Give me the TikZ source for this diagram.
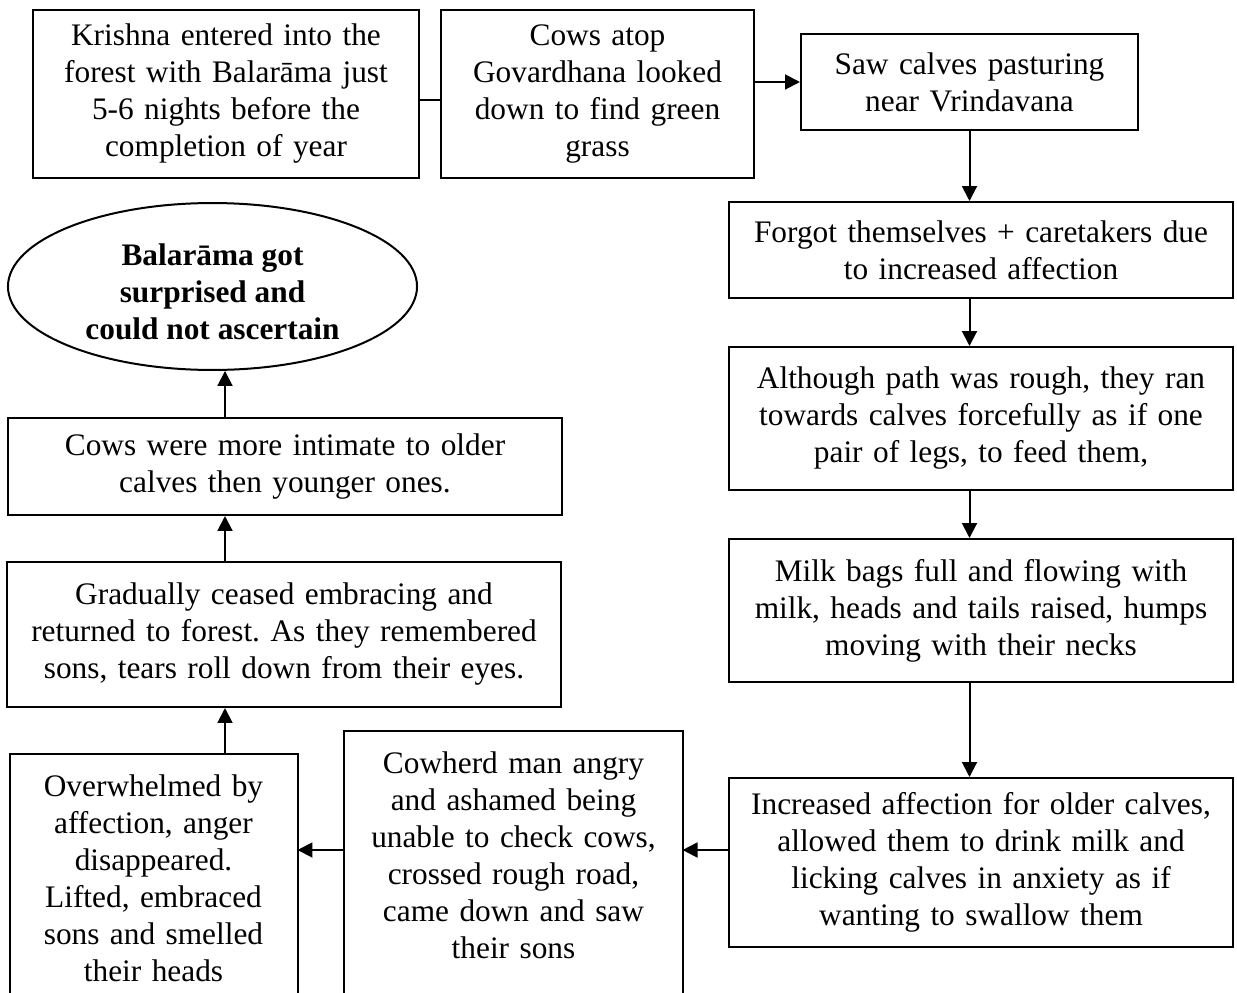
\documentclass[tikz,border=0pt]{standalone}
\usepackage{fontspec}
\setmainfont{Liberation Serif}
\usetikzlibrary{arrows.meta,shapes.geometric}
\frenchspacing

\begin{document}
\begin{tikzpicture}[x=0.375pt,y=-0.375pt,
  every node/.style={font=\fontsize{11.75pt}{13.875pt}\selectfont},
  stepbox/.style={draw, line width=0.75pt, align=center, inner xsep=2pt, inner ysep=0pt},
  openbox/.style={align=center, inner xsep=2pt, inner ysep=7.5pt, anchor=north},
  flow/.style={line width=0.75pt, -{Triangle[length=5.6pt,width=5.6pt]}},
  link/.style={line width=0.75pt}]
\useasboundingbox (0,0) rectangle (1237,992);
\clip (0,0) rectangle (1237,992);

% guide coordinates for the connector lanes
\coordinate (toplane) at (0,100);
\coordinate (lowlane) at (0,850);
\coordinate (spine) at (225,0);
\coordinate (floor) at (0,1010);

% top row
\node[stepbox, text width=140.75pt, minimum height=63pt] (krishna) at (226,94)
  {Krishna entered into the\\forest with Balarāma just\\5-6 nights before the\\completion of year};
\node[stepbox, text width=113.4pt, minimum height=63pt] (govardhana) at (597.5,94)
  {Cows atop\\Govardhana looked\\down to find green\\grass};
\node[stepbox, text width=122.4pt, minimum height=36pt] (calves) at (969.5,82)
  {Saw calves pasturing\\near Vrindavana};

% right column
\node[stepbox, text width=185pt, minimum height=36pt] (forgot) at (981,250)
  {Forgot themselves + caretakers due\\to increased affection};
\node[stepbox, text width=185pt, minimum height=53.625pt] (rough) at (981,418.5)
  {Although path was rough, they ran\\towards calves forcefully as if one\\pair of legs, to feed them,};
\node[stepbox, text width=185pt, minimum height=53.625pt] (milk) at (981,610.5)
  {Milk bags full and flowing with\\milk, heads and tails raised, humps\\moving with their necks};
\node[stepbox, text width=185pt, minimum height=63.375pt] (older) at (981,862.5)
  {Increased affection for older calves,\\allowed them to drink milk and\\licking calves in anxiety as if\\wanting to swallow them};

% bottom row (boxes run off the lower edge)
\node[openbox, text width=122.4pt] (cowherd) at (513.5,731)
  {Cowherd man angry\\and ashamed being\\unable to check cows,\\crossed rough road,\\came down and saw\\their sons};
\draw[link] (cowherd.north west) rectangle (cowherd.east |- floor);
\node[openbox, text width=103.6pt] (overwhelmed) at (153.5,754)
  {Overwhelmed by\\affection, anger\\disappeared.\\Lifted, embraced\\sons and smelled\\their heads};
\draw[link] (overwhelmed.north west) rectangle (overwhelmed.east |- floor);

% left column
\node[stepbox, text width=203.75pt, minimum height=54.375pt] (ceased) at (284,634.5)
  {Gradually ceased embracing and\\returned to forest. As they remembered\\sons, tears roll down from their eyes.};
\node[stepbox, text width=203.75pt, minimum height=36.375pt] (intimate) at (285,466.5)
  {Cows were more intimate to older\\calves then younger ones.};
\node[draw, ellipse, line width=0.75pt, minimum width=153.4pt, minimum height=62.6pt,
  inner sep=0pt, align=center, font=\fontsize{11.75pt}{13.875pt}\selectfont\bfseries] (surprised) at (212.5,286.5)
  {\rule{0pt}{12.4pt}Balarāma got\\surprised and\\could not ascertain};

% connectors
\draw[link] (krishna.east |- toplane) -- (govardhana.west |- toplane);
\draw[flow] (govardhana.east |- calves.west) -- (calves.west);
\draw[flow] (calves.south) -- (calves.south |- forgot.north);
\draw[flow] (calves.south |- forgot.south) -- (calves.south |- rough.north);
\draw[flow] (calves.south |- rough.south) -- (calves.south |- milk.north);
\draw[flow] (calves.south |- milk.south) -- (calves.south |- older.north);
\draw[flow] (older.west |- lowlane) -- (cowherd.east |- lowlane);
\draw[flow] (cowherd.west |- lowlane) -- (overwhelmed.east |- lowlane);
\draw[flow] (overwhelmed.north -| spine) -- (ceased.south -| spine);
\draw[flow] (ceased.north -| spine) -- (intimate.south -| spine);
\draw[flow] (intimate.north -| spine) -- (surprised.south -| spine);
\end{tikzpicture}
\end{document}
